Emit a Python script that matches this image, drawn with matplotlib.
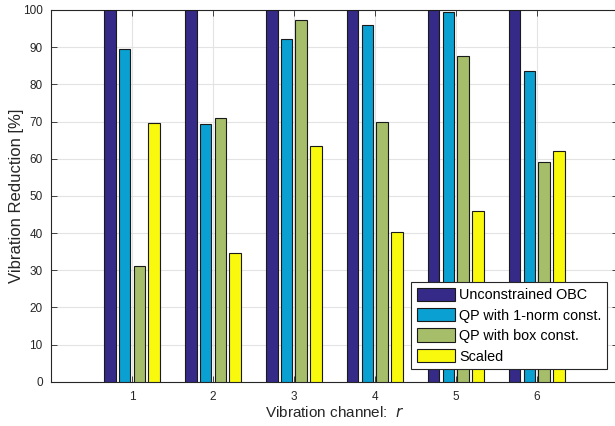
import matplotlib
matplotlib.use("Agg")
import matplotlib.pyplot as plt
import numpy as np

plt.rcParams['font.family'] = ['Liberation Sans', 'DejaVu Sans']

channels = [1, 2, 3, 4, 5, 6]
series_names = ["Unconstrained OBC", "QP with 1-norm const.", "QP with box const.", "Scaled"]
unconstrained = [100, 100, 100, 100, 100, 100]
qp_1norm = [89.6, 69.2, 92.2, 96.0, 99.4, 83.7]
qp_box = [31.1, 70.9, 97.2, 69.8, 87.5, 59.1]
scaled = [69.7, 34.6, 63.5, 40.4, 46.0, 62.0]
colors = ['#352a87', '#0aa0d2', '#a6be6a', '#f8f90d']
yticks = list(range(0, 101, 10))

W, H = 615, 426
ax_l, ax_r, ax_t, ax_b = 51, 617.7, 10, 381.7
fig = plt.figure(figsize=(W / 100, H / 100), dpi=100)
ax = fig.add_axes([ax_l / W, (H - ax_b) / H, (ax_r - ax_l) / W, (ax_b - ax_t) / H])
aw, ah = ax_r - ax_l, ax_b - ax_t

x = np.array(channels, dtype=float)
step = 0.182
width = 0.142
allvals = [unconstrained, qp_1norm, qp_box, scaled]
for i, (vals, name, c) in enumerate(zip(allvals, series_names, colors)):
    ax.bar(x + (i - 1.5) * step, vals, width=width, color=c, edgecolor='#1a1a1a',
           linewidth=0.8, label=name, zorder=3)

ax.set_xlim(0, 7)
ax.set_ylim(0, 100)
ax.set_xticks(channels)
ax.set_yticks(yticks)
ax.grid(True, color='#e3e3e3', linewidth=0.8, zorder=0)
ax.set_axisbelow(True)
axc = '#262626'
for s in ax.spines.values():
    s.set_color(axc)
    s.set_linewidth(0.8)
ax.tick_params(direction='in', top=True, right=True, length=4, width=0.6,
               color=axc, labelcolor=axc, labelsize=8.5)
ax.tick_params(axis='x', pad=7)
ax.tick_params(axis='y', pad=6)
ax.set_ylabel("Vibration Reduction [%]", fontsize=12, color=axc)
ax.yaxis.set_label_coords(-(ax_l - 24) / aw, 0.5)
ax.set_xlabel("Vibration channel:  $\\mathit{r}$", fontsize=11, color=axc)
ax.xaxis.set_label_coords(0.5, -(405 - ax_b) / ah)

leg = ax.legend(loc='lower right', bbox_to_anchor=((607 - ax_l) / aw, (ax_b - 369.3) / ah),
                fontsize=10.4, fancybox=False, framealpha=1, edgecolor=axc,
                borderpad=0.4, labelspacing=0.4, handlelength=2.6, handleheight=1.05,
                handletextpad=0.3, borderaxespad=0)
leg.get_frame().set_linewidth(0.8)

fig.savefig("out.png", dpi=100)
